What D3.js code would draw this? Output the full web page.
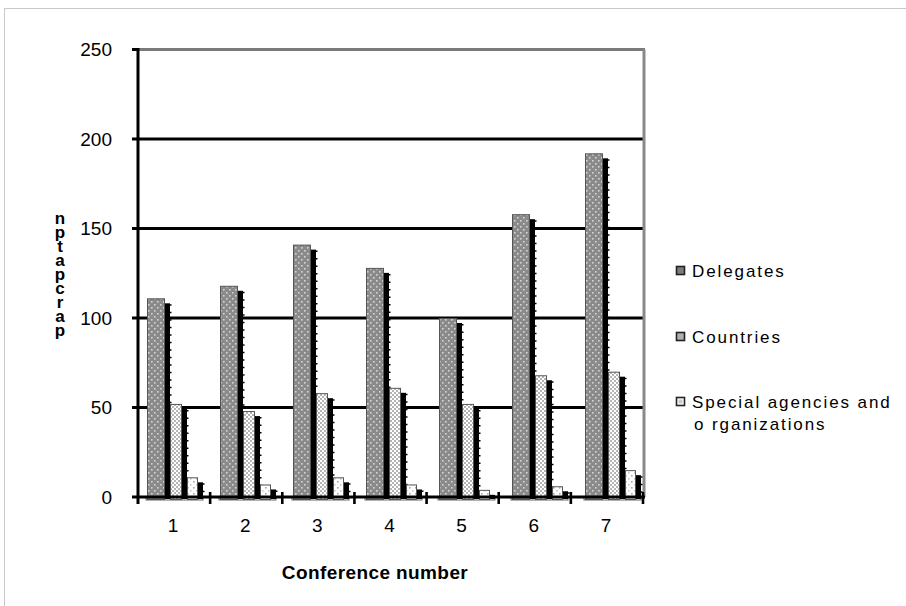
<!DOCTYPE html>
<html><head><meta charset="utf-8">
<script src="https://cdn.jsdelivr.net/npm/d3@7"></script>
<style>body{margin:0;background:#fff}svg{display:block}text{font-family:"Liberation Sans",Arial,sans-serif}</style>
</head><body><svg id="c" width="906" height="606"></svg>
<script>
const categories = ["1","2","3","4","5","6","7"];
const delegates = [111,118,141,128,100,158,192];
const countries = [52,48,58,61,52,68,70];
const agencies = [11,7,11,7,4,6,15];
const yTicks = [0,50,100,150,200,250];
const seriesNames = ["Delegates","Countries","Special agencies and|o rganizations"];
const yTitle = "nptapcrap";
const xTitle = "Conference number";

(function(){
const svg = d3.select("#c");
const defs = svg.append("defs");
function pat(id,bg,dots,size){
  const p = defs.append("pattern").attr("id",id).attr("patternUnits","userSpaceOnUse").attr("width",size).attr("height",size);
  p.append("rect").attr("width",size).attr("height",size).attr("fill",bg);
  dots.forEach(d=>p.append("rect").attr("x",d[0]).attr("y",d[1]).attr("width",d[2]).attr("height",d[2]).attr("fill",d[3]));
}
pat("pD","#8a8a8a",[[1,1,1.6,"#d4d4d4"],[4,4,1.6,"#d4d4d4"]],6);
pat("pC","#b4b4b4",[[0,0,2,"#ffffff"],[2,2,2,"#ffffff"]],4);
pat("pS","#ffffff",[[1,1,1.6,"#a8a8a8"],[4,4,1.6,"#c8c8c8"]],6);

svg.append("rect").attr("x",4.5).attr("y",8.5).attr("width",920).attr("height",620).attr("fill","none").attr("stroke","#c8c8c8");

const y = d3.scaleLinear().domain([0,250]).range([497,49.5]);
const xAxisScale = d3.scaleBand().domain(categories).range([138,643]);
const xBars = d3.scaleBand().domain(categories).range([147,147+73*categories.length]);

const pLeft=138, pRight=644, pTop=y(250), pBottom=y(0);

svg.append("g").selectAll("line").data(yTicks.filter(t=>t>0&&t<250)).join("line")
  .attr("x1",132).attr("x2",pRight).attr("y1",d=>y(d)).attr("y2",d=>y(d))
  .attr("stroke","#000").attr("stroke-width",3);
svg.append("line").attr("x1",pLeft).attr("x2",pRight+1).attr("y1",pTop).attr("y2",pTop).attr("stroke","#7a7a7a").attr("stroke-width",3);
svg.append("line").attr("x1",pRight).attr("x2",pRight).attr("y1",pTop).attr("y2",pBottom).attr("stroke","#8a8a8a").attr("stroke-width",3);
svg.append("line").attr("x1",132).attr("x2",pLeft).attr("y1",pTop).attr("y2",pTop).attr("stroke","#000").attr("stroke-width",3);

const series = [
  {vals:delegates, fill:"url(#pD)", x0:0, w:17, sw:6},
  {vals:countries, fill:"url(#pC)", x0:23, w:11, sw:6},
  {vals:agencies, fill:"url(#pS)", x0:40, w:10, sw:6}
];
const gBars = svg.append("g");
categories.forEach((c,i)=>{
  const gx = xBars(c);
  gBars.append("rect").attr("x",gx-1).attr("y",pBottom).attr("width",57).attr("height",3).attr("fill","#fff").attr("stroke","#666").attr("stroke-width",1);
  series.forEach(s=>{
    const v = s.vals[i];
    const fx = gx+s.x0;
    gBars.append("rect").attr("x",fx+s.w).attr("y",y(v)+5).attr("width",s.sw).attr("height",pBottom+2-(y(v)+5)).attr("fill","#000");
    gBars.append("line").attr("x1",fx+s.w+s.sw+0.5).attr("x2",fx+s.w+s.sw+0.5).attr("y1",y(v)+6).attr("y2",pBottom)
      .attr("stroke","#000").attr("stroke-width",2).attr("stroke-dasharray","1.5,6");
    gBars.append("rect").attr("x",fx+0.5).attr("y",y(v)+0.5).attr("width",s.w).attr("height",pBottom+2-y(v)).attr("fill",s.fill)
      .attr("stroke","#555").attr("stroke-width",1);
  });
});

svg.append("line").attr("x1",pLeft).attr("x2",pLeft).attr("y1",pTop-1.5).attr("y2",pBottom+7).attr("stroke","#000").attr("stroke-width",3);
svg.append("line").attr("x1",132).attr("x2",pRight+1).attr("y1",pBottom).attr("y2",pBottom).attr("stroke","#000").attr("stroke-width",3);
const tickXs = categories.slice(1).map(c=>xAxisScale(c)).concat([xAxisScale.range()[1]]);
svg.append("g").selectAll("line").data(tickXs).join("line")
  .attr("x1",d=>d).attr("x2",d=>d)
  .attr("y1",pBottom-5).attr("y2",pBottom+7).attr("stroke","#000").attr("stroke-width",2.6);

svg.append("g").selectAll("text").data(yTicks).join("text")
  .attr("x",112).attr("y",d=>y(d)).attr("dy","0.36em").attr("text-anchor","end")
  .attr("font-size",19).text(d=>d);
svg.append("g").selectAll("text").data(categories).join("text")
  .attr("x",d=>xAxisScale(d)+xAxisScale.bandwidth()/2-1).attr("y",532).attr("text-anchor","middle")
  .attr("font-size",19).text(d=>d);
svg.append("text").attr("x",375).attr("y",579).attr("text-anchor","middle").attr("font-size",19).attr("font-weight","bold")
  .attr("letter-spacing","0.4px").text(xTitle);
svg.append("text").attr("x",60).attr("y",209)
  .style("writing-mode","vertical-rl").style("text-orientation","upright")
  .attr("font-size",17).attr("font-weight","bold").attr("letter-spacing","-5px").text(yTitle);

const legY = [271,337,402];
const legFill = ["#7c7c7c","#b0b0b0","#fff"];
seriesNames.forEach((n,i)=>{
  svg.append("rect").attr("x",676.5).attr("y",legY[i]-4.5).attr("width",8).attr("height",8)
    .attr("fill",legFill[i]).attr("stroke","#222").attr("stroke-width",1.6);
  if(i===2) svg.append("rect").attr("x",678.5).attr("y",legY[i]-2.5).attr("width",4).attr("height",4).attr("fill","#ccc");
  const lines = n.split("|");
  lines.forEach((l,j)=>{
    svg.append("text").attr("x",j===0?692:694).attr("y",legY[i]+6+j*22).attr("font-size",17).attr("letter-spacing","1.9px").text(l);
  });
});
})();
</script></body></html>
